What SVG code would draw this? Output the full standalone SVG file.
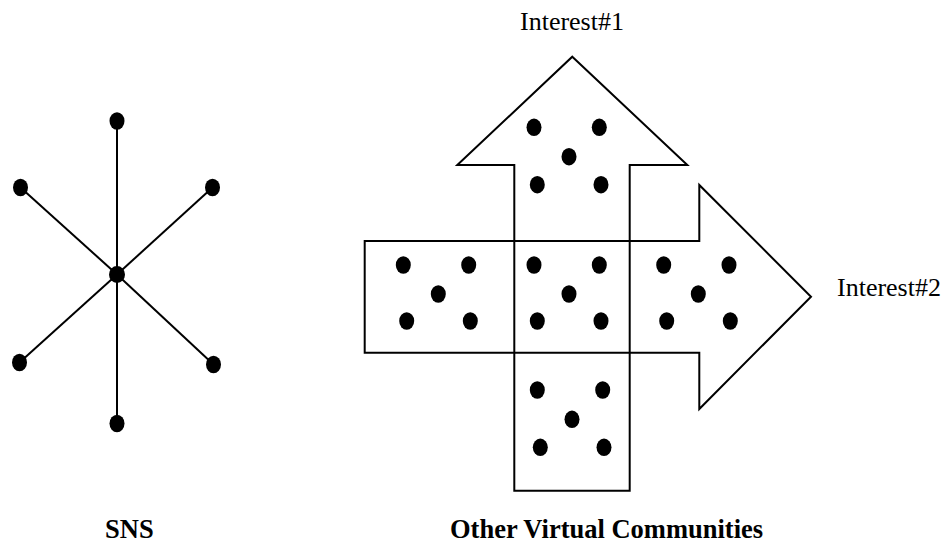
<svg xmlns="http://www.w3.org/2000/svg" width="945" height="545" viewBox="0 0 945 545">
<style>
.edge{stroke:#000;stroke-width:2;fill:none}
.dot{fill:#000}
.shape{fill:none;stroke:#000;stroke-width:2;stroke-linejoin:miter}
.lbl{font-family:"Liberation Serif","Times New Roman",serif;font-size:26px;fill:#000}
.b{font-weight:bold;font-size:26.5px}
</style>
<rect width="945" height="545" fill="#fff"/>
<g id="connectors">
<line class="edge" x1="117" y1="274.5" x2="117" y2="121"/>
<line class="edge" x1="117" y1="274.5" x2="20.5" y2="187.5"/>
<line class="edge" x1="117" y1="274.5" x2="212.5" y2="187.5"/>
<line class="edge" x1="117" y1="274.5" x2="19.5" y2="362.5"/>
<line class="edge" x1="117" y1="274.5" x2="213.5" y2="364.5"/>
<line class="edge" x1="117" y1="274.5" x2="117" y2="423.5"/>
</g>
<g id="sns-hub"><ellipse class="dot" cx="117" cy="274.5" rx="8" ry="8.5"/></g>
<g id="sns-n1"><ellipse class="dot" cx="117" cy="121" rx="7.5" ry="8.7"/></g>
<g id="sns-n2"><ellipse class="dot" cx="20.5" cy="187.5" rx="7.5" ry="8.7"/></g>
<g id="sns-n3"><ellipse class="dot" cx="212.5" cy="187.5" rx="7.5" ry="8.7"/></g>
<g id="sns-n4"><ellipse class="dot" cx="19.5" cy="362.5" rx="7.5" ry="8.7"/></g>
<g id="sns-n5"><ellipse class="dot" cx="213.5" cy="364.5" rx="7.5" ry="8.7"/></g>
<g id="sns-n6"><ellipse class="dot" cx="117" cy="423.5" rx="7.5" ry="8.7"/></g>
<g id="interest1-arrow">
<polygon class="shape" points="572.3,56.7 687.3,165 629.7,165 629.7,490.7 514.3,490.7 514.3,165 457.3,165"/>
</g>
<g id="interest2-arrow">
<polygon class="shape" points="364.7,241 699.3,241 699.3,185 811,296.7 699.3,409 699.3,352.7 364.7,352.7"/>
</g>
<g id="group-top">
<ellipse class="dot" cx="534" cy="127.3" rx="7.5" ry="8.7"/>
<ellipse class="dot" cx="599.3" cy="127.3" rx="7.5" ry="8.7"/>
<ellipse class="dot" cx="569" cy="156.7" rx="7.5" ry="8.7"/>
<ellipse class="dot" cx="537.3" cy="184.7" rx="7.5" ry="8.7"/>
<ellipse class="dot" cx="601" cy="184.7" rx="7.5" ry="8.7"/>
</g>
<g id="group-left">
<ellipse class="dot" cx="403.3" cy="265" rx="7.5" ry="8.7"/>
<ellipse class="dot" cx="468.7" cy="265" rx="7.5" ry="8.7"/>
<ellipse class="dot" cx="438.3" cy="294" rx="7.5" ry="8.7"/>
<ellipse class="dot" cx="406.7" cy="321" rx="7.5" ry="8.7"/>
<ellipse class="dot" cx="470.3" cy="321" rx="7.5" ry="8.7"/>
</g>
<g id="group-center">
<ellipse class="dot" cx="534" cy="265" rx="7.5" ry="8.7"/>
<ellipse class="dot" cx="599.3" cy="265" rx="7.5" ry="8.7"/>
<ellipse class="dot" cx="569" cy="294" rx="7.5" ry="8.7"/>
<ellipse class="dot" cx="537.3" cy="321" rx="7.5" ry="8.7"/>
<ellipse class="dot" cx="601" cy="321" rx="7.5" ry="8.7"/>
</g>
<g id="group-right">
<ellipse class="dot" cx="663.7" cy="265" rx="7.5" ry="8.7"/>
<ellipse class="dot" cx="729" cy="265" rx="7.5" ry="8.7"/>
<ellipse class="dot" cx="698.3" cy="294" rx="7.5" ry="8.7"/>
<ellipse class="dot" cx="666.7" cy="321" rx="7.5" ry="8.7"/>
<ellipse class="dot" cx="730.3" cy="321" rx="7.5" ry="8.7"/>
</g>
<g id="group-bottom">
<ellipse class="dot" cx="537.3" cy="390" rx="7.5" ry="8.7"/>
<ellipse class="dot" cx="602.7" cy="390" rx="7.5" ry="8.7"/>
<ellipse class="dot" cx="572" cy="419.3" rx="7.5" ry="8.7"/>
<ellipse class="dot" cx="540.3" cy="447.3" rx="7.5" ry="8.7"/>
<ellipse class="dot" cx="604" cy="447.3" rx="7.5" ry="8.7"/>
</g>
<g id="labels">
<text class="lbl" x="520" y="30">Interest#1</text>
<text class="lbl" x="837" y="296">Interest#2</text>
<text class="lbl b" x="105" y="538">SNS</text>
<text class="lbl b" x="450" y="538">Other Virtual Communities</text>
</g>
</svg>
